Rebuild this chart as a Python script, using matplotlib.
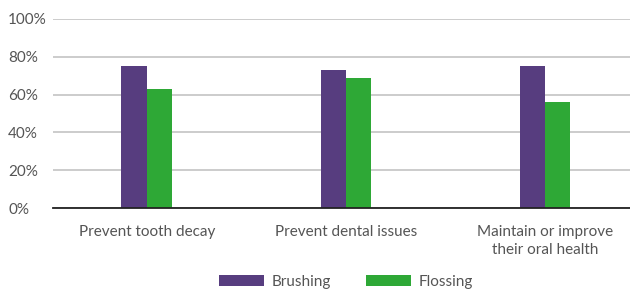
import matplotlib
matplotlib.use("Agg")
import matplotlib.pyplot as plt
import numpy as np
from matplotlib.ticker import FuncFormatter

categories = ["Prevent tooth decay", "Prevent dental issues", "Maintain or improve\ntheir oral health"]
brushing = [75, 73, 75]
flossing = [63, 69, 56]
series_names = ["Brushing", "Flossing"]
colors = ["#573d7f", "#2ea836"]

plt.rcParams['font.family'] = ['Lato', 'DejaVu Sans']

fig = plt.figure(figsize=(6.3, 2.9), dpi=100)
ax = fig.add_axes([53/630, 1-208/290, 1-53/630, (208-19)/290])

x = np.arange(len(categories))
w = 0.128
ax.bar(x - w/2, brushing, width=w, color=colors[0], label=series_names[0], zorder=3)
ax.bar(x + w/2, flossing, width=w, color=colors[1], label=series_names[1], zorder=3)

ax.set_ylim(0, 100)
ax.set_xlim(-0.472, 2.427)
ax.set_yticks(np.arange(0, 101, 20))
ax.yaxis.set_major_formatter(FuncFormatter(lambda v, p: f"{int(v)}%"))
ax.grid(axis='y', color='#c8c8c8', linewidth=1.3, zorder=0)
ax.set_xticks(x)
ax.set_xticklabels(categories, linespacing=1.3)
ax.tick_params(axis='both', length=0, labelsize=11, colors='#555555')
ax.tick_params(axis='x', pad=12.5)
ax.tick_params(axis='y', pad=32.4)
for lab in ax.get_yticklabels():
    lab.set_horizontalalignment('left')
for s in ['top', 'right', 'left']:
    ax.spines[s].set_visible(False)
ax.spines['bottom'].set_color('#222222')
ax.spines['bottom'].set_linewidth(1.3)
ax.spines['bottom'].set_zorder(4)

leg = fig.legend(loc='center', bbox_to_anchor=(346/630, 1-282/290), ncol=2, frameon=False,
                 fontsize=11, handlelength=2.94, handleheight=0.72, handletextpad=0.46,
                 columnspacing=2.35, labelcolor='#555555')

fig.savefig("out.png", dpi=100)
